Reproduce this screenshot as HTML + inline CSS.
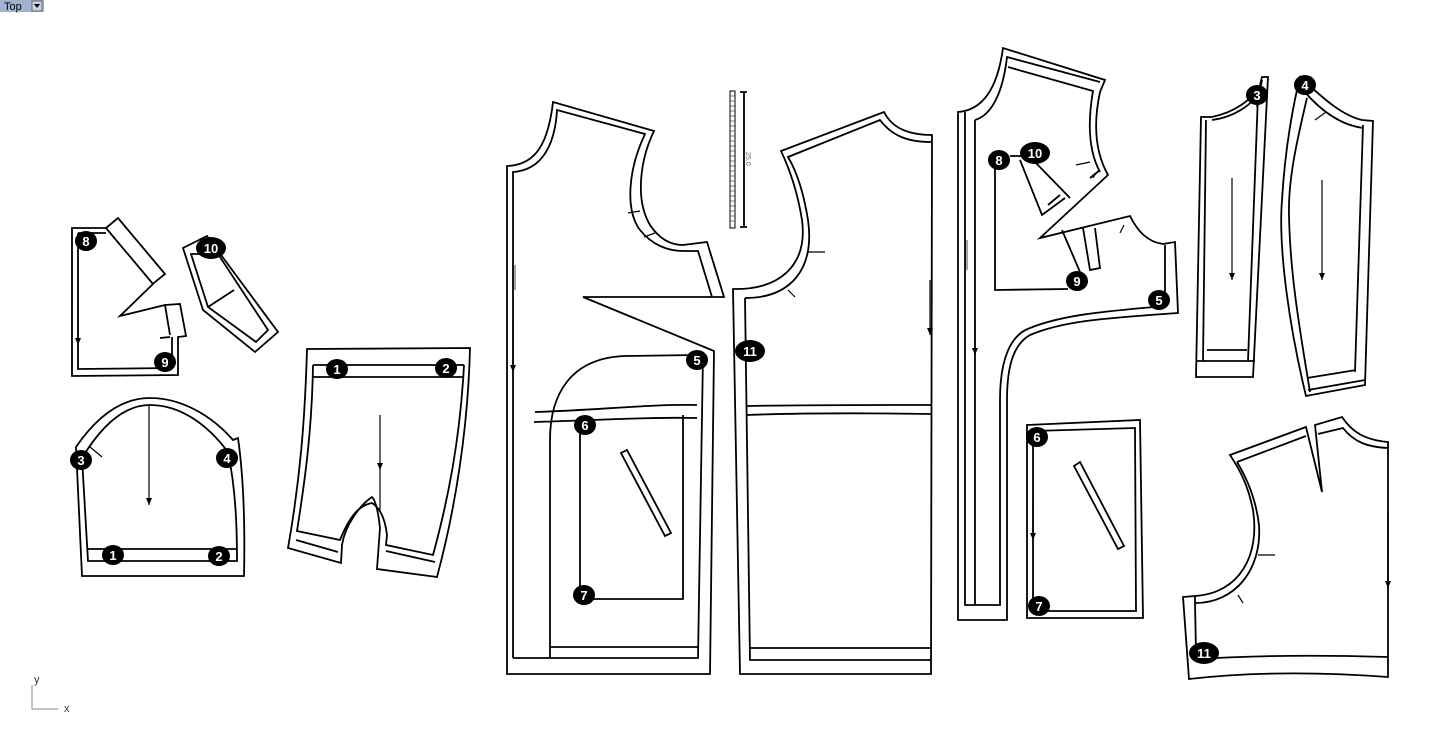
<!DOCTYPE html>
<html><head><meta charset="utf-8"><style>
html,body{margin:0;padding:0;background:#fff;width:1454px;height:742px;overflow:hidden}
svg{display:block}
.l{fill:none;stroke:#000;stroke-width:1.8;stroke-linejoin:miter}
.t{fill:none;stroke:#000;stroke-width:1.2}
.g{fill:none;stroke:#888;stroke-width:1.5}
text.n{font-family:"Liberation Sans",sans-serif;font-weight:bold;font-size:13px;fill:#fff;text-anchor:middle}
</style></head><body>
<svg width="1454" height="742" viewBox="0 0 1454 742" xmlns="http://www.w3.org/2000/svg">
<defs>
<marker id="ar" markerWidth="8" markerHeight="6" refX="7" refY="3" orient="auto" markerUnits="userSpaceOnUse"><path d="M0,0 L7,3 L0,6 Z" fill="#000"/></marker>
</defs>
<rect x="0" y="0" width="44" height="12" fill="#9fb3cf"/>
<text x="4" y="10" font-family="Liberation Sans,sans-serif" font-size="11" fill="#000">Top</text>
<rect x="32" y="1" width="10" height="10" fill="#c8d2e2" stroke="#555" stroke-width="0.8"/>
<path d="M34,4 L40,4 L37,8 Z" fill="#000"/>

<!-- Piece A: collar 8/9 -->
<path class="l" d="M72,228 L106,228 L118,218 L165,274 L155,282 L120,316 L165,305 L180,304 L186,336 L178,337 L178,375 L72,376 Z"/>
<path class="l" d="M106,228 L153,284 M78,233 L106,233 M78,233 L78,369 L172,368 L172,337 M165,305 L170,335 M160,338 L170,337"/>
<line class="t" x1="78" y1="305" x2="78" y2="345" marker-end="url(#ar)"/>
<!-- Piece 10 -->
<path class="l" d="M183,248 L207,236 L278,332 L255,352 L203,310 Z"/>
<path class="l" d="M191,254 L218,254 L268,330 L256,342 L208,307 Z M208,307 L234,290"/>

<!-- Sleeve bottom-left -->
<path class="l" d="M82,576 L76,447 C100,412 125,398 150,398 C182,398 212,416 233,440 L238,438 C244,480 245,530 244,576 Z"/>
<path class="l" d="M88,561 L82,458 C105,420 128,405 150,405 C180,405 207,424 228,452 C236,490 237,530 237,561 Z M88,549 L237,549"/>
<path class="t" d="M90,447 L102,457 M218,455 L230,455"/>
<line class="t" x1="149" y1="404" x2="149" y2="505" marker-end="url(#ar)"/>

<!-- Shorts -->
<path class="l" d="M307,349 L470,348 C468,430 455,510 437,577 L377,569 L380,528 C378,510 375,500 372,497 C360,505 345,525 342,545 L341,563 L288,548 C300,480 305,420 307,349 Z"/>
<path class="l" d="M313,365 L464,365 M313,377 L463,377 M313,365 C312,430 305,480 297,531 L340,540 C350,515 360,505 372,503 C380,508 385,518 387,535 L386,545 L433,555 C448,500 460,440 464,365 M296,540 L338,552 M386,551 L435,562"/>
<line class="t" x1="380" y1="415" x2="380" y2="470" marker-end="url(#ar)"/>
<line class="t" x1="380" y1="470" x2="380" y2="510"/>

<!-- Front bodice -->
<path class="l" d="M507,674 L507,166 C535,165 548,145 553,102 L654,131 C640,160 635,200 650,225 C660,240 672,245 683,245 L707,242 L724,297 L583,297 L714,351 L710,674 Z"/>
<path class="l" d="M513,658 L513,172 C542,170 555,145 557,110 L645,134 C628,170 625,210 640,230 C652,245 668,251 683,251 L698,251 L712,297"/>
<path class="l" d="M513,658 L698,658 L703,355 M550,647 L698,647 M550,658 L550,440 C550,395 570,358 625,356 L697,355 M535,412 C600,410 650,404 697,405 M534,422 C600,420 650,417 697,418"/>
<path class="l" d="M580,425 L580,599 L683,599 L683,415"/>
<path class="l" d="M621,453 L627,450 L671,533 L665,536 Z"/>
<path class="t" d="M628,213 L640,211 M644,237 L655,233"/>
<line class="t" x1="513" y1="320" x2="513" y2="372" marker-end="url(#ar)"/>
<line class="g" x1="515" y1="265" x2="515" y2="290"/>

<!-- strip -->
<rect x="730" y="91" width="5" height="137" fill="#fff" stroke="#000" stroke-width="1"/>
<path stroke="#000" stroke-width="0.6" d="M730,96H735M730,101H735M730,106H735M730,111H735M730,116H735M730,121H735M730,126H735M730,131H735M730,136H735M730,141H735M730,146H735M730,151H735M730,156H735M730,161H735M730,166H735M730,171H735M730,176H735M730,181H735M730,186H735M730,191H735M730,196H735M730,201H735M730,206H735M730,211H735M730,216H735M730,221H735"/>
<path class="l" d="M744,92 L744,227 M740,92 L747,92 M740,227 L747,227"/>
<text x="0" y="0" transform="translate(746,152) rotate(90)" font-family="Liberation Sans,sans-serif" font-size="7" fill="#666">25.0</text>

<!-- Back bodice -->
<path class="l" d="M740,674 L733,289 C780,290 808,265 802,220 C798,195 790,170 781,151 L884,112 C892,128 908,135 932,135 L931,674 Z"/>
<path class="l" d="M745,298 C790,298 815,270 808,220 C804,195 797,172 788,157 L880,120 C892,136 908,142 931,142 M745,298 L750,660 L931,660 M750,648 L931,648 M747,406 C800,405 870,405 931,405 M747,415 C800,413 870,413 931,414"/>
<path class="t" d="M808,252 L825,252 M788,290 L795,297"/>
<line class="t" x1="930" y1="280" x2="930" y2="335" marker-end="url(#ar)"/>

<!-- Third piece (front facing) -->
<path class="l" d="M958,620 L958,112 C985,110 998,85 1003,48 L1105,80 L1100,92 C1094,120 1094,150 1108,175 L1040,238 L1130,216 C1138,232 1148,242 1163,244 L1175,242 L1178,313 C1110,318 1065,320 1030,335 C1012,345 1007,370 1007,400 L1007,620 Z"/>
<path class="l" d="M965,112 L965,605 L1000,605 L1000,400 C1000,360 1010,335 1030,328 C1065,314 1110,311 1165,306 L1165,245 M975,120 L975,605 M975,120 C992,115 1003,92 1007,57 L1100,82 M1008,67 L1093,91 C1088,120 1088,150 1100,172 M1100,170 L1090,178"/>
<path class="l" d="M995,168 L995,290 L1068,289 M1010,156 L1022,156 M1020,160 L1042,215 L1065,198 M1035,162 L1070,198 M1048,205 L1060,195 M1062,230 L1080,272 M1083,228 L1090,270 L1100,268 L1095,228"/>
<path class="t" d="M1076,165 L1090,162 M1093,178 L1096,173 M1124,225 L1120,233"/>
<line class="t" x1="975" y1="320" x2="975" y2="355" marker-end="url(#ar)"/>
<line class="g" x1="967" y1="240" x2="967" y2="270"/>

<!-- pocket piece -->
<path class="l" d="M1027,425 L1140,420 L1143,618 L1027,618 Z"/>
<path class="l" d="M1033,431 L1135,428 L1136,611 L1033,611 Z"/>
<path class="l" d="M1074,466 L1080,462 L1124,546 L1118,549 Z"/>
<line class="t" x1="1033" y1="500" x2="1033" y2="540" marker-end="url(#ar)"/>

<!-- Sleeve 3 -->
<path class="l" d="M1201,117 L1212,117 C1235,112 1252,100 1260,85 L1262,77 L1268,77 L1253,377 L1196,377 Z"/>
<path class="l" d="M1206,120 L1203,361 M1212,120 C1236,117 1252,103 1258,95 L1248,361 M1257,107 L1262,80 M1207,350 L1247,350 M1196,361 L1255,361"/>
<line class="t" x1="1232" y1="178" x2="1232" y2="280" marker-end="url(#ar)"/>

<!-- Sleeve 4 -->
<path class="l" d="M1300,77 C1320,95 1340,115 1362,120 L1373,121 L1365,385 L1306,396 C1290,330 1278,250 1282,200 C1285,150 1292,110 1300,77 Z"/>
<path class="l" d="M1307,98 C1297,140 1288,180 1289,215 C1290,270 1298,320 1310,392 M1303,90 C1320,110 1340,125 1363,128 M1363,125 L1355,372 M1307,378 L1356,370 M1308,390 L1365,380"/>
<path class="t" d="M1315,120 L1326,112"/>
<line class="t" x1="1322" y1="180" x2="1322" y2="280" marker-end="url(#ar)"/>

<!-- Back piece bottom-right -->
<path class="l" d="M1183,597 L1195,596 C1240,593 1260,555 1253,510 C1248,485 1240,470 1230,455 L1306,427 L1322,492 L1315,425 L1342,417 C1352,432 1365,440 1388,442 L1388,677 C1320,672 1250,672 1189,679 Z"/>
<path class="l" d="M1237,462 L1306,436 M1318,434 L1343,428 C1354,442 1367,447 1388,448 M1237,462 C1248,480 1256,500 1259,525 C1262,570 1235,603 1195,603 L1196,652 M1195,596 L1195,603 M1198,659 C1260,655 1320,655 1388,657"/>
<path class="t" d="M1258,555 L1275,555 M1238,595 L1243,603"/>
<line class="t" x1="1388" y1="510" x2="1388" y2="588" marker-end="url(#ar)"/>

<g>
<ellipse cx="86" cy="241" rx="11" ry="10"/><text class="n" x="86" y="246">8</text>
<ellipse cx="165" cy="362" rx="11" ry="10"/><text class="n" x="165" y="367">9</text>
<ellipse cx="211" cy="248" rx="15" ry="11"/><text class="n" x="211" y="253">10</text>
<ellipse cx="81" cy="460" rx="11" ry="10"/><text class="n" x="81" y="465">3</text>
<ellipse cx="227" cy="458" rx="11" ry="10"/><text class="n" x="227" y="463">4</text>
<ellipse cx="113" cy="555" rx="11" ry="10"/><text class="n" x="113" y="560">1</text>
<ellipse cx="219" cy="556" rx="11" ry="10"/><text class="n" x="219" y="561">2</text>
<ellipse cx="337" cy="369" rx="11" ry="10"/><text class="n" x="337" y="374">1</text>
<ellipse cx="446" cy="368" rx="11" ry="10"/><text class="n" x="446" y="373">2</text>
<ellipse cx="697" cy="360" rx="11" ry="10"/><text class="n" x="697" y="365">5</text>
<ellipse cx="585" cy="425" rx="11" ry="10"/><text class="n" x="585" y="430">6</text>
<ellipse cx="584" cy="595" rx="11" ry="10"/><text class="n" x="584" y="600">7</text>
<ellipse cx="750" cy="351" rx="15" ry="11"/><text class="n" x="750" y="356">11</text>
<ellipse cx="999" cy="160" rx="11" ry="10"/><text class="n" x="999" y="165">8</text>
<ellipse cx="1035" cy="153" rx="15" ry="11"/><text class="n" x="1035" y="158">10</text>
<ellipse cx="1077" cy="281" rx="11" ry="10"/><text class="n" x="1077" y="286">9</text>
<ellipse cx="1159" cy="300" rx="11" ry="10"/><text class="n" x="1159" y="305">5</text>
<ellipse cx="1037" cy="437" rx="11" ry="10"/><text class="n" x="1037" y="442">6</text>
<ellipse cx="1039" cy="606" rx="11" ry="10"/><text class="n" x="1039" y="611">7</text>
<ellipse cx="1257" cy="95" rx="11" ry="10"/><text class="n" x="1257" y="100">3</text>
<ellipse cx="1305" cy="85" rx="11" ry="10"/><text class="n" x="1305" y="90">4</text>
<ellipse cx="1204" cy="653" rx="15" ry="11"/><text class="n" x="1204" y="658">11</text>
</g>

<path d="M32,685 L32,709 L58,709" fill="none" stroke="#888" stroke-width="1"/>
<text x="34" y="683" font-family="Liberation Sans,sans-serif" font-size="11" fill="#333">y</text>
<text x="64" y="712" font-family="Liberation Sans,sans-serif" font-size="11" fill="#333">x</text>
</svg>
</body></html>
